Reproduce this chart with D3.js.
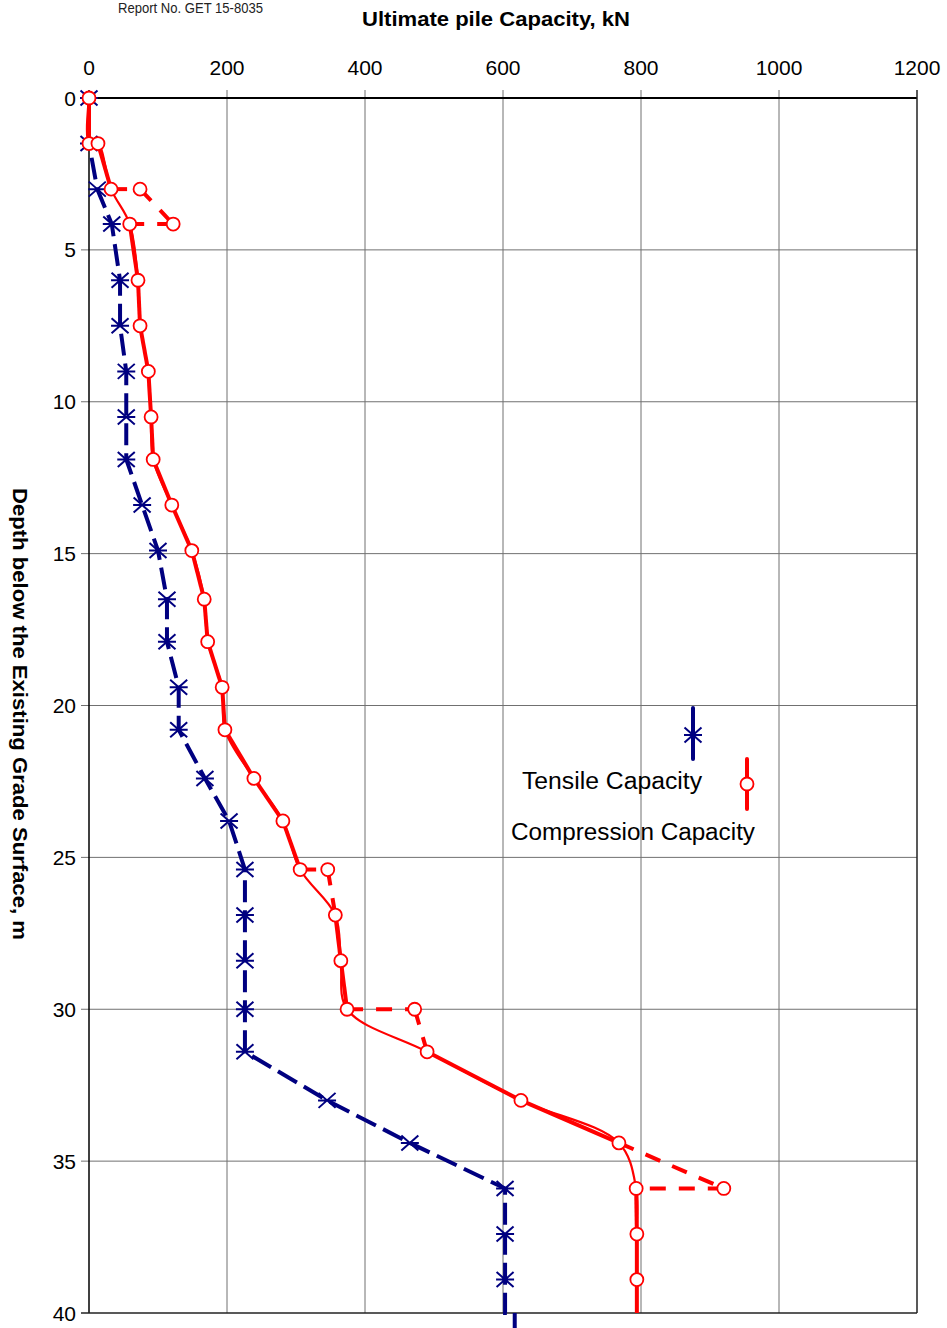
<!DOCTYPE html>
<html>
<head>
<meta charset="utf-8">
<script src="https://cdn.jsdelivr.net/npm/d3@7"></script>
<style>
  body { margin: 0; background: #fff; }
  svg { display: block; font-family: "Liberation Sans", Arial, sans-serif; }
</style>
</head>
<body>
<div id="chart"></div>
<script>
// tick values
var xTicks = [0, 200, 400, 600, 800, 1000, 1200],
    yTicks = [0, 5, 10, 15, 20, 25, 30, 35, 40];

// Tensile capacity (kN) vs depth (m); points past 40 m run off the bottom
var tensileDepth = [0, 1.5, 3, 4.15, 6, 7.5, 9, 10.5, 11.9, 13.4, 14.9, 16.5, 17.9, 19.4, 20.8, 22.4, 23.8, 25.4, 26.9, 28.4, 30, 31.4, 33, 34.4, 35.9, 37.4, 38.9, 40, 40, 41],
    tensile      = [0, 0, 12, 33, 45, 45, 54, 54, 54, 77, 100, 113, 113, 130, 130, 168, 203, 226, 226, 226, 226, 226, 345, 465, 603, 603, 603, 603, 617, 617];

// Compression capacity, full sequence (duplicated depths at layer changes)
var compressionDepth = [0, 1.5, 1.5, 3, 3, 4.15, 4.15, 6, 7.5, 9, 10.5, 11.9, 13.4, 14.9, 16.5, 17.9, 19.4, 20.8, 22.4, 23.8, 25.4, 25.4, 26.9, 28.4, 30, 30, 31.4, 33, 34.4, 35.9, 35.9, 37.4, 38.9, 40],
    compression      = [0, 0, 13, 32, 74, 122, 59, 71, 74, 86, 90, 93, 120, 149, 167, 172, 193, 197, 239, 281, 306, 346, 357, 365, 374, 472, 490, 626, 768, 920, 793, 794, 794, 794];

// Compression main trend (smoothed), skipping the layer-change peaks
var trendDepth = [0, 1.5, 1.5, 3, 4.15, 6, 7.5, 9, 10.5, 11.9, 13.4, 14.9, 16.5, 17.9, 19.4, 20.8, 22.4, 23.8, 25.4, 26.9, 28.4, 30, 31.4, 33, 34.4, 35.9, 37.4, 38.9, 40],
    trend      = [0, 0, 13, 32, 59, 71, 74, 86, 90, 93, 120, 149, 167, 172, 193, 197, 239, 281, 306, 357, 365, 374, 490, 626, 768, 793, 794, 794, 794];

var legendNames = ["Tensile Capacity", "Compression Capacity"];

var W = 947, H = 1328;
var svg = d3.select("#chart").append("svg").attr("width", W).attr("height", H);

var x = d3.scaleLinear().domain([0, 1200]).range([89, 917]);
var y = d3.scaleLinear().domain([0, 40]).range([98, 1313]);

var zip = function(ds, vs) { return ds.map(function(d, i) { return {d: d, v: vs[i]}; }); };
var tens = zip(tensileDepth, tensile),
    comp = zip(compressionDepth, compression),
    tr = zip(trendDepth, trend);

// header text
svg.append("text").attr("x", 118).attr("y", 13)
  .attr("font-size", 15).attr("textLength", 145).attr("lengthAdjust", "spacingAndGlyphs")
  .attr("fill", "#222").text("Report No. GET 15-8035");
svg.append("text").attr("x", 496).attr("y", 26).attr("text-anchor", "middle")
  .attr("font-size", 20).attr("font-weight", "bold")
  .attr("textLength", 268).attr("lengthAdjust", "spacingAndGlyphs").text("Ultimate pile Capacity, kN");
svg.append("text").attr("transform", "translate(13,714) rotate(90)").attr("text-anchor", "middle")
  .attr("font-size", 21).attr("font-weight", "bold")
  .attr("textLength", 452).attr("lengthAdjust", "spacingAndGlyphs").text("Depth below the Existing Grade Surface, m");

// grid
var grid = svg.append("g");
grid.selectAll("line.v").data(xTicks.slice(1, -1)).enter().append("line")
  .attr("x1", x).attr("x2", x).attr("y1", y(0) - 8).attr("y2", y(40))
  .attr("stroke", "#707070").attr("stroke-width", 1);
grid.selectAll("line.h").data(yTicks.slice(1, -1)).enter().append("line")
  .attr("x1", x(0) - 8).attr("x2", x(1200)).attr("y1", y).attr("y2", y)
  .attr("stroke", "#707070").attr("stroke-width", 1);
// frame
grid.append("line").attr("x1", x(0)).attr("x2", x(1200)).attr("y1", y(0)).attr("y2", y(0))
  .attr("stroke", "#000").attr("stroke-width", 2);
grid.append("line").attr("x1", x(0)).attr("x2", x(0)).attr("y1", y(0) - 8).attr("y2", y(40))
  .attr("stroke", "#000").attr("stroke-width", 1.5);
grid.append("line").attr("x1", x(1200)).attr("x2", x(1200)).attr("y1", y(0) - 8).attr("y2", y(40))
  .attr("stroke", "#222").attr("stroke-width", 1.5);
grid.append("line").attr("x1", x(0) - 8).attr("x2", x(1200)).attr("y1", y(40)).attr("y2", y(40))
  .attr("stroke", "#222").attr("stroke-width", 1.5);

// tick labels
svg.selectAll("text.xt").data(xTicks).enter().append("text")
  .attr("x", x).attr("y", 75).attr("text-anchor", "middle").attr("font-size", 21).text(function(d) { return d; });
svg.selectAll("text.yt").data(yTicks).enter().append("text")
  .attr("x", 76).attr("y", function(d) { return y(d) + 7.5; }).attr("text-anchor", "end")
  .attr("font-size", 21).text(function(d) { return d; });

var line = d3.line().x(function(p) { return x(p.v); }).y(function(p) { return y(p.d); });
var star = "M-8.5,-7.5L8.5,7.5M-8.5,7.5L8.5,-7.5M-9,0L9,0";

// tensile
svg.append("path").datum(tens).attr("d", line).attr("fill", "none")
  .attr("stroke", "#000080").attr("stroke-width", 4).attr("stroke-dasharray", "22,8");
svg.selectAll("path.tm").data(tens.filter(function(p) { return p.d < 40; })).enter().append("path")
  .attr("transform", function(p) { return "translate(" + x(p.v) + "," + y(p.d) + ")"; })
  .attr("d", star).attr("fill", "none").attr("stroke", "#000080").attr("stroke-width", 2);

// compression: thin smoothed trend underneath
svg.append("path").datum(tr).attr("d", line.curve(d3.curveCatmullRom.alpha(0.5))).attr("fill", "none")
  .attr("stroke", "#ff0000").attr("stroke-width", 2.2);
line.curve(d3.curveLinear);

// compression: thick segments, solid along the trend, dashed through the peaks
var onTrend = function(p) { return tr.some(function(t) { return t.d === p.d && t.v === p.v; }); };
var segs = d3.pairs(comp);
svg.selectAll("path.cs").data(segs).enter().append("path")
  .attr("d", line).attr("fill", "none").attr("stroke", "#ff0000").attr("stroke-width", 4)
  .attr("stroke-dasharray", function(s) { return onTrend(s[0]) && onTrend(s[1]) ? null : "16,13"; });
svg.selectAll("circle.cm").data(comp.filter(function(p) { return p.d < 40; })).enter().append("circle")
  .attr("cx", function(p) { return x(p.v); }).attr("cy", function(p) { return y(p.d); })
  .attr("r", 6.5).attr("fill", "#fff").attr("stroke", "#ff0000").attr("stroke-width", 1.8);

// legend (as laid out in the source)
var lg = svg.append("g");
lg.append("line").attr("x1", 693).attr("x2", 693).attr("y1", 708).attr("y2", 759)
  .attr("stroke", "#000080").attr("stroke-width", 4).attr("stroke-linecap", "round");
lg.append("path").attr("transform", "translate(693,735)").attr("d", star)
  .attr("fill", "none").attr("stroke", "#000080").attr("stroke-width", 2);
lg.append("line").attr("x1", 747).attr("x2", 747).attr("y1", 759).attr("y2", 809)
  .attr("stroke", "#ff0000").attr("stroke-width", 4).attr("stroke-linecap", "round");
lg.append("circle").attr("cx", 747).attr("cy", 784).attr("r", 6.5)
  .attr("fill", "#fff").attr("stroke", "#ff0000").attr("stroke-width", 1.8);
lg.append("text").attr("x", 522).attr("y", 789).attr("font-size", 23)
  .attr("textLength", 180).attr("lengthAdjust", "spacingAndGlyphs").text(legendNames[0]);
lg.append("text").attr("x", 511).attr("y", 840).attr("font-size", 23)
  .attr("textLength", 244).attr("lengthAdjust", "spacingAndGlyphs").text(legendNames[1]);
</script>
</body>
</html>
